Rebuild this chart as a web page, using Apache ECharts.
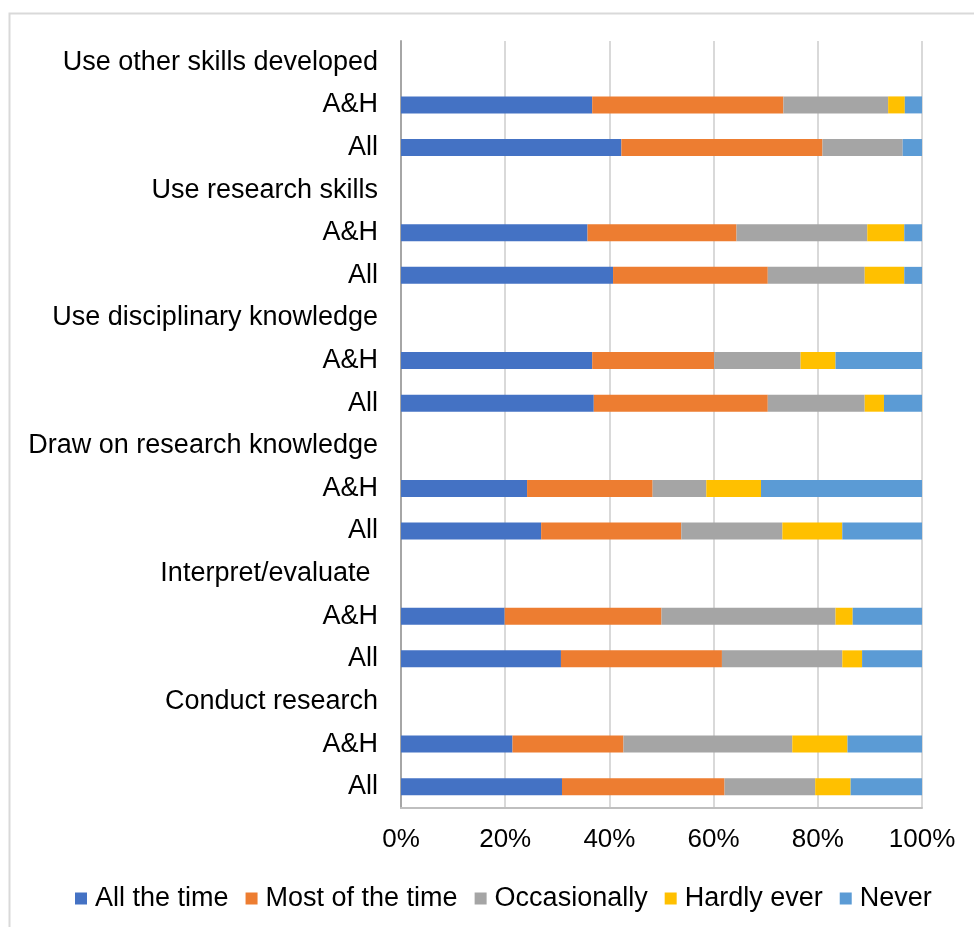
<!DOCTYPE html>
<html>
<head>
<meta charset="utf-8">
<script src="https://cdn.jsdelivr.net/npm/echarts@6/dist/echarts.min.js"></script>
<style>
  html, body { margin: 0; padding: 0; background: #ffffff; }
  #chart { width: 974px; height: 927px; }
</style>
</head>
<body>
<div id="chart"></div>
<script>
// Row labels, top to bottom: a heading row followed by its two groups
const categories = [
  'Use other skills developed', 'A&H', 'All',
  'Use research skills', 'A&H', 'All',
  'Use disciplinary knowledge', 'A&H', 'All',
  'Draw on research knowledge', 'A&H', 'All',
  'Interpret/evaluate ', 'A&H', 'All',
  'Conduct research', 'A&H', 'All'
];

// Percentage of respondents per answer (heading rows have no bar)
const allTheTime     = [null, 36.7, 42.3, null, 35.8, 40.7, null, 36.7, 37.0, null, 24.2, 26.9, null, 19.9, 30.7, null, 21.4, 30.9];
const mostOfTheTime  = [null, 36.7, 38.6, null, 28.6, 29.7, null, 23.4, 33.4, null, 24.1, 26.9, null, 30.1, 30.9, null, 21.3, 31.2];
const occasionally   = [null, 20.1, 15.4, null, 25.1, 18.6, null, 16.6, 18.6, null, 10.3, 19.4, null, 33.4, 23.1, null, 32.4, 17.4];
const hardlyEver     = [null,  3.2,  0.0, null,  7.1,  7.6, null,  6.7,  3.7, null, 10.5, 11.5, null,  3.3,  3.8, null, 10.6,  6.8];
const never          = [null,  3.3,  3.7, null,  3.4,  3.4, null, 16.6,  7.3, null, 30.9, 15.3, null, 13.3, 11.5, null, 14.3, 13.7];

const seriesNames = ['All the time', 'Most of the time', 'Occasionally', 'Hardly ever', 'Never'];
const seriesValues = [allTheTime, mostOfTheTime, occasionally, hardlyEver, never];
const seriesColors = ['#4472C4', '#ED7D31', '#A5A5A5', '#FFC000', '#5B9BD5'];

// Percent axis ticks
const tickMin = 0, tickMax = 100, tickStep = 20;

const FONT = '"Liberation Sans", Arial, sans-serif';

const chart = echarts.init(document.getElementById('chart'), null, { renderer: 'canvas' });

chart.setOption({
  animation: false,
  backgroundColor: '#ffffff',
  textStyle: { fontFamily: FONT },
  graphic: [{
    type: 'rect',
    left: 7, top: 11,
    shape: { width: 1000, height: 960 },
    style: { fill: 'none', stroke: '#d9d9d9', lineWidth: 2 },
    silent: true,
    z: -10
  }],
  grid: { left: 401, right: 52, top: 41, bottom: 119, containLabel: false },
  legend: {
    left: 70,
    top: 880,
    itemWidth: 12,
    itemHeight: 12,
    itemGap: 17,
    icon: 'rect',
    data: seriesNames,
    textStyle: { fontFamily: FONT, fontSize: 27, color: '#000000', padding: [0, 0, 0, 3] }
  },
  xAxis: {
    type: 'value',
    min: tickMin,
    max: tickMax,
    interval: tickStep,
    axisLine: { show: true, lineStyle: { color: '#bfbfbf', width: 2 } },
    axisTick: { show: false },
    splitLine: { show: true, lineStyle: { color: '#d9d9d9', width: 2 } },
    axisLabel: {
      formatter: '{value}%',
      fontFamily: FONT,
      fontSize: 26,
      color: '#000000',
      margin: 19
    }
  },
  yAxis: {
    type: 'category',
    inverse: true,
    data: categories,
    axisLine: { show: true, lineStyle: { color: '#a6a6a6', width: 2 } },
    axisTick: { show: false },
    axisLabel: {
      fontFamily: FONT,
      fontSize: 27,
      color: '#000000',
      margin: 23,
      interval: 0
    }
  },
  series: seriesNames.map((name, i) => ({
    name: name,
    type: 'bar',
    stack: 'total',
    barWidth: 17,
    data: seriesValues[i],
    itemStyle: { color: seriesColors[i] }
  }))
});
</script>
</body>
</html>
